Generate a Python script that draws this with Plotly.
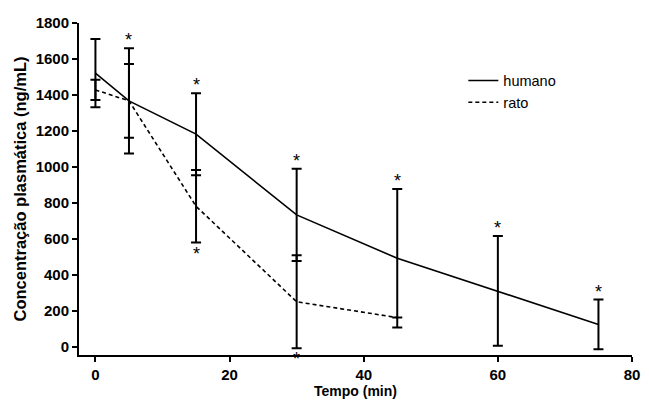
import plotly.graph_objects as go

# Data
tempo_humano = [0, 5, 15, 30, 45, 60, 75]
conc_humano = [1521, 1367, 1182, 733, 492, 310, 124]
sd_humano = [190, 292, 228, 256, 385, 305, 138]

tempo_rato = [0, 5, 15, 30, 45]
conc_rato = [1428, 1367, 781, 250, 162]
sd_rato = [56, 205, 202, 258, 0]

# significance stars: above humano bars, below some rato bars
star_above_humano = [5, 15, 30, 45, 60, 75]
star_below_rato = [15, 30]

x_ticks = [0, 20, 40, 60, 80]
y_ticks = [0, 200, 400, 600, 800, 1000, 1200, 1400, 1600, 1800]

FONT = "Liberation Sans"

fig = go.Figure()
fig.add_trace(go.Scatter(
    x=tempo_humano, y=conc_humano, mode="lines", name="humano",
    line=dict(color="black", width=1.6),
    error_y=dict(type="data", array=sd_humano, visible=True,
                 color="black", thickness=2, width=5),
))
fig.add_trace(go.Scatter(
    x=tempo_rato, y=conc_rato, mode="lines", name="rato",
    line=dict(color="black", width=1.6, dash="4px,3px"),
    error_y=dict(type="data", array=sd_rato, visible=True,
                 color="black", thickness=2, width=5),
))

annotations = []
for t in star_above_humano:
    i = tempo_humano.index(t)
    annotations.append(dict(x=t, y=conc_humano[i] + sd_humano[i], text="*",
                            showarrow=False, yanchor="bottom", yshift=-4,
                            font=dict(family=FONT, size=18, color="black")))
for t in star_below_rato:
    i = tempo_rato.index(t)
    annotations.append(dict(x=t, y=conc_rato[i] - sd_rato[i], text="*",
                            showarrow=False, yanchor="top", yshift=1,
                            font=dict(family=FONT, size=18, color="black")))

fig.update_layout(
    width=649, height=410,
    margin=dict(l=79, r=9, t=23, b=55),
    plot_bgcolor="white", paper_bgcolor="white",
    font=dict(family=FONT, color="black"),
    showlegend=True,
    legend=dict(x=0.695, y=0.875, xanchor="left", yanchor="top",
                bgcolor="rgba(0,0,0,0)", itemwidth=30, tracegroupgap=0,
                font=dict(family=FONT, size=14.5, color="black")),
    annotations=annotations,
    xaxis=dict(
        range=[-2.45, 80], tickvals=x_ticks,
        ticktext=["<b>%d</b>" % v for v in x_ticks],
        showline=True, linecolor="black", linewidth=2,
        ticks="outside", ticklen=5, tickwidth=2, tickcolor="black",
        showgrid=False, zeroline=False,
        tickfont=dict(family=FONT, size=15, color="black", weight=700),
        title=dict(text="<b>Tempo (min)</b>", standoff=3,
                   font=dict(family=FONT, size=14, color="black")),
    ),
    yaxis=dict(
        range=[-46, 1800], tickvals=y_ticks,
        ticktext=["<b>%d</b>" % v for v in y_ticks],
        showline=True, linecolor="black", linewidth=2,
        ticks="outside", ticklen=5, tickwidth=2, tickcolor="black",
        showgrid=False, zeroline=False,
        tickfont=dict(family=FONT, size=15, color="black", weight=700),
        title=dict(text="<b>Concentração plasmática (ng/mL)</b>", standoff=5,
                   font=dict(family=FONT, size=16.5, color="black")),
    ),
)

fig.write_html("out.html")
